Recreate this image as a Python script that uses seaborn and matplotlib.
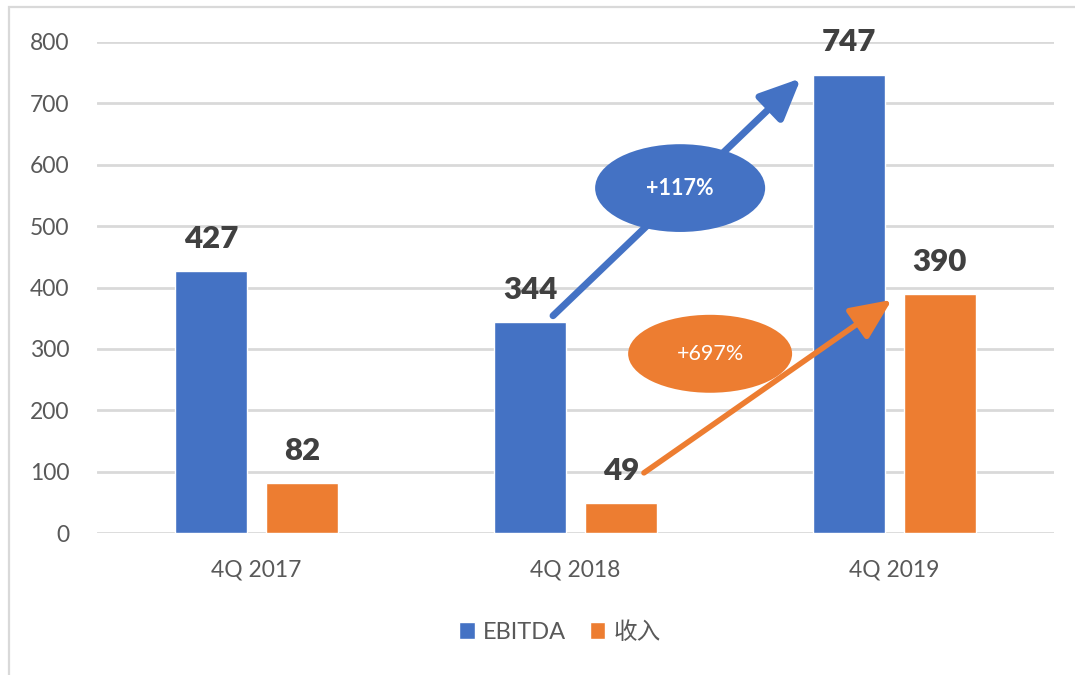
import numpy as np
import pandas as pd
import matplotlib.pyplot as plt
import seaborn as sns
from matplotlib.patches import Ellipse, Rectangle

quarters = ['4Q 2017', '4Q 2018', '4Q 2019']
ebitda = [427, 344, 747]
revenue = [82, 49, 390]
series = ['EBITDA', '收入']
growth_labels = ['+117%', '+697%']
colors = ['#4472C4', '#ED7D31']

df = pd.DataFrame({
    'quarter': quarters * 2,
    'value': ebitda + revenue,
    'series': [series[0]] * 3 + [series[1]] * 3,
})

sns.set_theme(style='white')
plt.rcParams['font.family'] = ['Lato', 'Noto Sans CJK SC', 'DejaVu Sans']

W, H = 1075, 675
fig = plt.figure(figsize=(W / 100, H / 100), dpi=100)
ax = fig.add_axes([97 / W, 1 - 533 / H, (1054 - 97) / W, (533 - 42) / H])

sns.barplot(data=df, x='quarter', y='value', hue='series', palette=colors,
            width=0.57, gap=0.21, saturation=1, errorbar=None, ax=ax)

ax.set_ylim(0, 800)
ax.set_yticks(range(0, 801, 100))
ax.set_xlabel('')
ax.set_ylabel('')
ax.yaxis.grid(True, color='#d9d9d9', lw=2)
ax.set_axisbelow(True)
sns.despine(ax=ax, left=True, bottom=True)
ax.tick_params(axis='both', length=0, labelsize=16.5, labelcolor='#595959')
ax.tick_params(axis='y', pad=20)
ax.tick_params(axis='x', pad=19)

for container in ax.containers:
    ax.bar_label(container, padding=13, fontsize=22.5, fontweight='heavy', color='#404040')

# growth arrows: from 2018 bar to 2019 bar of each series
ebitda_bars = ax.containers[0]
rev_bars = ax.containers[1]
arrow_pairs = [(ebitda_bars[1], ebitda_bars[2], 10, -6, colors[0], 5.0),
               (rev_bars[1], rev_bars[2], 49, -10, colors[1], 4.0)]
for b0, b1, dy0, dy1, c, lw in arrow_pairs:
    start = (b0.get_x() + 0.82 * b0.get_width(), b0.get_height() + dy0)
    end = (b1.get_x() - 0.17 * b1.get_width(), b1.get_height() + dy1)
    ax.annotate('', xy=end, xytext=start, zorder=4,
                arrowprops=dict(arrowstyle='-|>,head_length=1.0,head_width=0.45',
                                mutation_scale=25, color=c, lw=lw,
                                shrinkA=0, shrinkB=0))

ellipse_pos = [(1.328, 562, 0.533, 143), (1.422, 292, 0.514, 127)]
for (cx, cy, ew, eh), lab, c, fw in zip(ellipse_pos, growth_labels, colors, ['bold', 'normal']):
    ax.add_patch(Ellipse((cx, cy), ew, eh, facecolor=c, edgecolor='none', zorder=5))
    ax.text(cx, cy, lab, ha='center', va='center', color='white', fontsize=15.5,
            fontweight=fw, zorder=6)

sns.move_legend(ax, 'center', bbox_to_anchor=(560 / W, 1 - 632 / H),
                bbox_transform=fig.transFigure, ncol=2, frameon=False, title=None,
                fontsize=17, labelcolor='#595959', handlelength=0.65, handleheight=0.75,
                handletextpad=0.35, columnspacing=1.0)

fig.add_artist(Rectangle((9 / W, -0.1), 1.2, 1.1 - 7 / H, transform=fig.transFigure,
                         fill=False, edgecolor='#d9d9d9', lw=1.6))

fig.savefig('out.png', dpi=100)
